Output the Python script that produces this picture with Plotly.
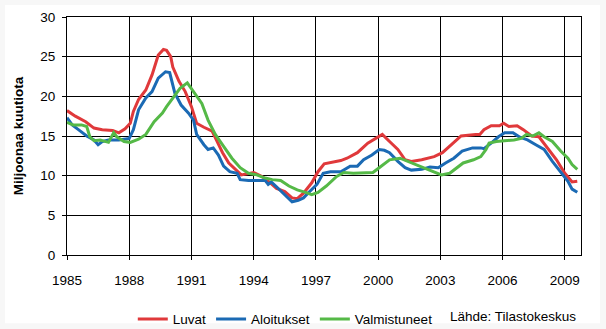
import plotly.graph_objects as go

# ---- data (decimal years, million cubic metres) ----
luvat_x = [1985.0, 1985.4, 1985.9, 1986.3, 1986.7, 1987.2, 1987.5, 1987.8, 1988.05, 1988.2,
           1988.45, 1988.8, 1989.1, 1989.4, 1989.65, 1989.8, 1990.0, 1990.1, 1990.4, 1990.7,
           1991.0, 1991.25, 1991.6, 1992.0, 1992.2, 1992.5, 1992.8, 1993.1, 1993.4, 1994.0,
           1994.4, 1994.8, 1995.1, 1995.5, 1995.85, 1996.1, 1996.4, 1996.8, 1997.1, 1997.4,
           1997.8, 1998.2, 1998.5, 1999.0, 1999.5, 1999.85, 2000.2, 2000.55, 2000.95, 2001.3,
           2001.6, 2002.1, 2002.7, 2003.1, 2003.6, 2004.0, 2004.7, 2004.9, 2005.1, 2005.45,
           2005.85, 2006.05, 2006.3, 2006.7, 2007.0, 2007.4, 2007.75, 2008.1, 2008.6, 2009.0,
           2009.35, 2009.6]
luvat_y = [18.2, 17.5, 16.8, 16.0, 15.8, 15.7, 15.4, 15.9, 16.6, 18.1,
           19.6, 20.8, 22.7, 25.2, 25.9, 25.8, 25.0, 23.7, 21.9, 20.6,
           18.7, 16.6, 16.1, 15.6, 14.5, 12.9, 11.6, 10.8, 10.1, 10.4,
           9.9, 9.1, 8.4, 8.0, 7.2, 7.1, 7.8, 9.1, 10.5, 11.5,
           11.7, 11.9, 12.2, 12.9, 14.1, 14.6, 15.2, 14.3, 13.3, 12.0,
           11.8, 12.0, 12.4, 12.9, 14.1, 15.0, 15.2, 15.2, 15.8, 16.3,
           16.3, 16.6, 16.2, 16.3, 15.8, 15.0, 14.9, 13.7, 12.0, 10.3,
           9.2, 9.3]

aloitukset_x = [1985.0, 1985.25, 1985.55, 1985.95, 1986.3, 1986.5, 1986.7, 1987.0, 1987.5, 1988.0,
                1988.2, 1988.45, 1988.8, 1989.1, 1989.4, 1989.75, 1989.95, 1990.2, 1990.5, 1990.85,
                1991.1, 1991.25, 1991.6, 1991.8, 1992.05, 1992.3, 1992.55, 1992.85, 1993.2, 1993.35,
                1993.75, 1994.2, 1994.55, 1994.7, 1994.85, 1995.1, 1995.5, 1995.85, 1996.15, 1996.4,
                1996.7, 1997.05, 1997.35, 1997.7, 1998.2, 1998.65, 1999.0, 1999.3, 1999.7, 2000.05,
                2000.3, 2000.55, 2000.95, 2001.3, 2001.6, 2002.1, 2002.5, 2002.9, 2003.25, 2003.65,
                2004.05, 2004.55, 2004.95, 2005.1, 2005.45, 2005.8, 2006.1, 2006.5, 2006.8, 2007.2,
                2007.6, 2008.0, 2008.4, 2008.8, 2009.15, 2009.35, 2009.6]
aloitukset_y = [17.3, 16.4, 15.8, 15.0, 14.5, 13.9, 14.3, 14.5, 14.5, 14.7,
                15.8, 18.3, 19.8, 20.6, 22.3, 23.1, 23.0, 20.4, 18.9, 17.9,
                17.0, 15.2, 13.9, 13.3, 13.5, 12.6, 11.2, 10.5, 10.3, 9.5,
                9.4, 9.4, 9.4, 8.9, 9.2, 8.6, 7.6, 6.7, 6.9, 7.2,
                8.0, 8.9, 10.3, 10.5, 10.5, 11.2, 11.2, 12.0, 12.6, 13.3,
                13.2, 12.9, 11.8, 11.0, 10.7, 10.8, 11.1, 11.0, 11.6, 12.2,
                13.1, 13.5, 13.5, 13.4, 14.1, 14.9, 15.4, 15.4, 14.9, 14.5,
                13.9, 13.3, 11.8, 10.5, 9.3, 8.3, 7.9]

valmistuneet_x = [1985.0, 1985.3, 1985.7, 1985.95, 1986.1, 1986.3, 1986.6, 1987.0, 1987.25, 1987.4,
                  1987.75, 1988.05, 1988.45, 1988.8, 1989.2, 1989.6, 1989.8, 1990.05, 1990.45, 1990.8,
                  1991.1, 1991.5, 1991.8, 1992.15, 1992.55, 1992.95, 1993.35, 1993.75, 1994.15, 1994.55,
                  1994.9, 1995.3, 1995.7, 1996.1, 1996.5, 1996.8, 1997.1, 1997.5, 1998.0, 1998.35,
                  1998.8, 1999.3, 1999.75, 2000.05, 2000.2, 2000.55, 2001.05, 2001.45, 2001.95, 2002.4,
                  2002.8, 2003.05, 2003.45, 2003.8, 2004.1, 2004.6, 2004.95, 2005.2, 2005.35, 2005.7,
                  2006.1, 2006.55, 2006.9, 2007.15, 2007.45, 2007.75, 2008.0, 2008.4, 2008.8, 2009.15,
                  2009.35, 2009.6]
valmistuneet_y = [16.7, 16.4, 16.4, 16.2, 14.9, 14.4, 14.5, 14.2, 15.4, 14.9,
                  14.3, 14.2, 14.6, 15.2, 16.8, 17.9, 18.7, 19.6, 21.0, 21.7,
                  20.6, 19.1, 17.0, 15.2, 13.7, 12.2, 11.0, 10.3, 10.1, 9.7,
                  9.5, 9.4, 8.7, 8.2, 7.9, 7.6, 7.9, 8.7, 9.9, 10.4,
                  10.3, 10.4, 10.4, 11.0, 11.3, 12.0, 12.2, 11.8, 11.2, 10.8,
                  10.4, 10.1, 10.3, 11.0, 11.6, 12.0, 12.4, 13.3, 14.1, 14.3,
                  14.4, 14.5, 14.7, 15.2, 15.0, 15.4, 14.9, 14.3, 13.1, 12.2,
                  11.4, 10.8]

x_tickvals = [1985, 1988, 1991, 1994, 1997, 2000, 2003, 2006, 2009]
x_ticktext = ["1985", "1988", "1991", "1994", "1997", "2000", "2003", "2006", "2009"]
y_tickvals = [0, 5, 10, 15, 20, 25, 30]

FONT = "Liberation Sans, Arial, sans-serif"

fig = go.Figure()
fig.add_trace(go.Scatter(x=luvat_x, y=luvat_y, name="Luvat", mode="lines",
                         line=dict(color="#e0393b", width=3)))
fig.add_trace(go.Scatter(x=aloitukset_x, y=aloitukset_y, name="Aloitukset", mode="lines",
                         line=dict(color="#1b6ab4", width=3)))
fig.add_trace(go.Scatter(x=valmistuneet_x, y=valmistuneet_y, name="Valmistuneet", mode="lines",
                         line=dict(color="#55b947", width=3)))

fig.update_layout(
    width=606, height=329,
    margin=dict(l=67, r=25, t=17, b=74, autoexpand=False),
    paper_bgcolor="#f7f7f7",
    plot_bgcolor="white",
    font=dict(family=FONT, size=13.5, color="black"),
    showlegend=True,
    legend=dict(orientation="h", x=0.128, xanchor="left", y=-0.27, yanchor="middle",
                font=dict(size=13.5), bgcolor="rgba(0,0,0,0)", itemwidth=30,
                tracegroupgap=0),
    xaxis=dict(range=[1985, 2009.78], tickvals=x_tickvals, ticktext=x_ticktext,
               showgrid=True, gridcolor="black", gridwidth=1,
               showline=True, linecolor="black", linewidth=1, mirror=True,
               ticks="outside", ticklen=4, tickcolor="black", zeroline=False,
               ticklabelstandoff=9, tickfont=dict(size=13.5)),
    yaxis=dict(range=[0, 30], tickvals=y_tickvals,
               showgrid=True, gridcolor="black", gridwidth=1,
               showline=True, linecolor="black", linewidth=1, mirror=True,
               ticks="outside", ticklen=4, tickcolor="black", zeroline=False,
               ticklabelstandoff=4, tickfont=dict(size=13.5),
               title=dict(text="Miljoonaa kuutiota", font=dict(size=13.5, weight="bold"),
                          standoff=13)),
    shapes=[dict(type="rect", xref="paper", yref="paper", x0=-0.1206, x1=1.037,
                 y0=-0.287, y1=1.0503, fillcolor="white", line=dict(width=0), layer="below")],
    annotations=[dict(text="Lähde: Tilastokeskus", xref="paper", yref="paper",
                      x=0.994, xanchor="right", y=-0.258, yanchor="middle",
                      showarrow=False, font=dict(size=13.5))],
)

fig.write_html("out.html")
